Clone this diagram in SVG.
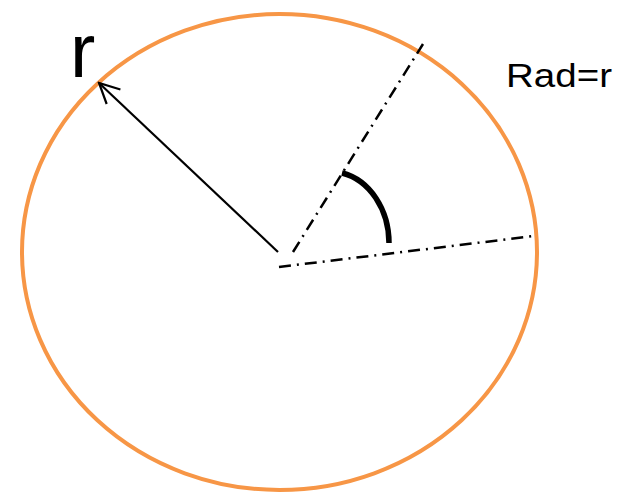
<svg xmlns="http://www.w3.org/2000/svg" width="632" height="492" viewBox="0 0 632 492">
<style>
.dd{stroke:#000;stroke-width:2.5;fill:none;stroke-dasharray:12 6 2 6}
.t{font-family:"Liberation Sans",Arial,sans-serif;fill:#000}
</style>
<defs>
<marker id="ah2" markerWidth="30" markerHeight="30" refX="28" refY="15" orient="auto" markerUnits="userSpaceOnUse" viewBox="0 0 30 30">
<path d="M8,5 L28,15 L8,25" fill="none" stroke="#000" stroke-width="2.2"/>
</marker>
</defs>
<g id="circle">
<ellipse cx="279.5" cy="252" rx="257.5" ry="238" fill="none" stroke="#F79646" stroke-width="4"/>
</g>
<g id="connectors">
<line x1="278" y1="252" x2="99" y2="83" stroke="#000" stroke-width="2.2" marker-end="url(#ah2)"/>
<line class="dd" x1="279" y1="267" x2="534" y2="236"/>
<line class="dd" x1="293" y1="252" x2="423" y2="44"/>
<path d="M342,173 C370,180 389,210 389,243" fill="none" stroke="#000" stroke-width="5.5"/>
</g>
<g id="labels">
<text class="t" x="70" y="77" font-size="76">r</text>
<text class="t" x="506" y="87" font-size="34" textLength="106" lengthAdjust="spacingAndGlyphs">Rad=r</text>
</g>
</svg>
